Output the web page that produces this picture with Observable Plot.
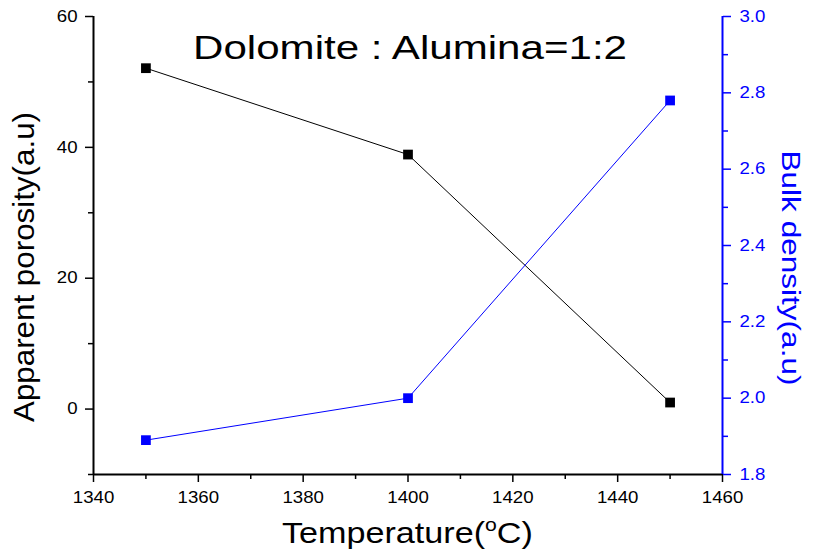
<!DOCTYPE html>
<html><head><meta charset="utf-8">
<script src="https://cdn.jsdelivr.net/npm/d3@7"></script>
<script src="https://cdn.jsdelivr.net/npm/@observablehq/plot@0.6"></script>
<style>body{margin:0;background:#fff} #chart{width:814px;height:550px}</style>
</head><body><div id="chart"></div>
<script>
const temperatures = [1350, 1400, 1450];
const porosity = [52.1, 38.9, 1.0];
const density = [1.89, 2.00, 2.78];
const xTicks = [1340, 1360, 1380, 1400, 1420, 1440, 1460];
const xMinor = [1350, 1370, 1390, 1410, 1430, 1450];
const leftTicks = [0, 20, 40, 60];
const leftMinor = [-10, 10, 30, 50];
const rightTicks = [1.8, 2.0, 2.2, 2.4, 2.6, 2.8, 3.0];
const rightMinor = [1.9, 2.1, 2.3, 2.5, 2.7, 2.9];
const titleText = "Dolomite : Alumina=1:2";
const yLabelLeft = "Apparent porosity(a.u)";
const yLabelRight = "Bulk density(a.u)";

const leftDomain = [-10, 60];
const rightDomain = [1.8, 3.0];
const toLeft = v => leftDomain[0] + (v - rightDomain[0]) / (rightDomain[1] - rightDomain[0]) * (leftDomain[1] - leftDomain[0]);
const toRight = v => rightDomain[0] + (v - leftDomain[0]) / (leftDomain[1] - leftDomain[0]) * (rightDomain[1] - rightDomain[0]);

const porData = temperatures.map((t, i) => ({t, v: porosity[i]}));
const denData = temperatures.map((t, i) => ({t, v: toLeft(density[i])}));
const FONT = "'Liberation Sans', Arial, sans-serif";

const plot = Plot.plot({
  width: 814, height: 550,
  marginLeft: 93, marginRight: 92, marginTop: 16, marginBottom: 76,
  style: {fontFamily: FONT, background: "#fff", overflow: "visible"},
  x: {domain: [1340, 1460]},
  y: {domain: leftDomain},
  marks: [
    Plot.axisX({ticks: xTicks, tickFormat: d => String(d), tickSize: 8, tickPadding: 9, fontSize: 16.5, label: null, stroke: "#000", strokeWidth: 1.5, fill: "#000"}),
    Plot.axisX({ticks: xMinor, tickSize: 5, text: null, label: null, stroke: "#000", strokeWidth: 1.5}),
    Plot.axisY({ticks: leftTicks, tickSize: 8, tickPadding: 8, fontSize: 16.5, label: null, stroke: "#000", strokeWidth: 1.5, fill: "#000"}),
    Plot.axisY({ticks: leftMinor, tickSize: 5, text: null, label: null, stroke: "#000", strokeWidth: 1.5}),
    Plot.axisY({anchor: "right", ticks: rightTicks.map(toLeft), tickFormat: d => toRight(d).toFixed(1), tickSize: 8, tickPadding: 9, fontSize: 16.5, label: null, stroke: "#0000ff", strokeWidth: 1.5, fill: "#0000ff"}),
    Plot.axisY({anchor: "right", ticks: rightMinor.map(toLeft), tickSize: 5, text: null, label: null, stroke: "#0000ff", strokeWidth: 1.5}),
    Plot.ruleY([leftDomain[0]], {stroke: "#000", strokeWidth: 2}),
    Plot.ruleX([1340], {stroke: "#000", strokeWidth: 2}),
    Plot.ruleX([1460], {stroke: "#0000ff", strokeWidth: 2}),
    Plot.line(porData, {x: "t", y: "v", stroke: "#000", strokeWidth: 1}),
    Plot.dot(porData, {x: "t", y: "v", symbol: "square", r: 5.5, fill: "#000", stroke: "none"}),
    Plot.line(denData, {x: "t", y: "v", stroke: "#0000ff", strokeWidth: 1}),
    Plot.dot(denData, {x: "t", y: "v", symbol: "square", r: 5.5, fill: "#0000ff", stroke: "none"})
  ]
});
document.getElementById("chart").appendChild(plot);

const svg = d3.select(plot);
// widen tick labels slightly, as in the reference
svg.selectAll("g[aria-label$='tick label'] text").each(function() {
  const w = this.getComputedTextLength();
  if (w > 0) { this.setAttribute("textLength", w * 1.13); this.setAttribute("lengthAdjust", "spacingAndGlyphs"); }
});

function stretch(sel, target) {
  sel.attr("textLength", target).attr("lengthAdjust", "spacingAndGlyphs");
}

const t = svg.append("text")
  .attr("x", 410).attr("y", 59).attr("text-anchor", "middle")
  .style("font-family", FONT).style("font-size", "33px").attr("fill", "#000")
  .text(titleText);
stretch(t, 434);

const yl = svg.append("text")
  .attr("transform", "translate(34,267) rotate(-90)")
  .attr("text-anchor", "middle")
  .style("font-family", FONT).style("font-size", "29px").attr("fill", "#000")
  .text(yLabelLeft);
stretch(yl, 310);

const yr = svg.append("text")
  .attr("transform", "translate(782,268) rotate(90)")
  .attr("text-anchor", "middle")
  .style("font-family", FONT).style("font-size", "26px").attr("fill", "#0000ff")
  .text(yLabelRight);
stretch(yr, 235);

const xg = svg.append("g");
const xl = xg.append("text")
  .attr("x", 0).attr("y", 0).attr("text-anchor", "start")
  .style("font-family", FONT).style("font-size", "29px").attr("fill", "#000");
xl.append("tspan").text("Temperature(");
xl.append("tspan").attr("dy", -12).style("font-size", "18px").text("o");
xl.append("tspan").attr("dy", 12).text("C)");
const bw = xl.node().getBBox().width;
const sx = 251 / bw;
xg.attr("transform", `translate(${407.5 - 251 / 2},543) scale(${sx},1)`);
</script>
</body></html>
